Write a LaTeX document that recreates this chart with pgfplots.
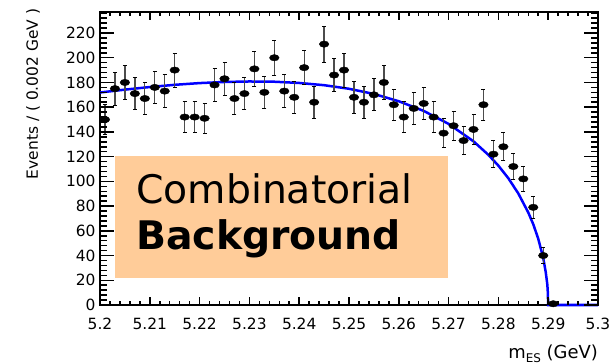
\documentclass[border=0pt]{standalone}
\usepackage{pgfplots}
\pgfplotsset{compat=1.18}
\usepackage{pgfplotstable}
\usepackage{fontspec}
\setmainfont{DejaVu Sans}
\definecolor{peach}{RGB}{255,204,153}

\pgfplotstableread{
x y ey
5.201 150 12.2
5.203 175 13.2
5.205 180 13.4
5.207 171 13.1
5.209 167 12.9
5.211 176 13.3
5.213 173 13.2
5.215 190 13.8
5.217 152 12.3
5.219 152 12.3
5.221 151 12.3
5.223 178 13.3
5.225 183 13.5
5.227 167 12.9
5.229 171 13.1
5.231 191 13.8
5.233 172 13.1
5.235 200 14.1
5.237 173 13.2
5.239 168 13.0
5.241 192 13.9
5.243 164 12.8
5.245 211 14.5
5.247 186 13.6
5.249 190 13.8
5.251 168 13.0
5.253 164 12.8
5.255 170 13.0
5.257 180 13.4
5.259 162 12.7
5.261 152 12.3
5.263 159 12.6
5.265 163 12.8
5.267 152 12.3
5.269 139 11.8
5.271 145 12.0
5.273 133 11.5
5.275 142 11.9
5.277 162 12.7
5.279 122 11.0
5.281 128 11.3
5.283 112 10.6
5.285 102 10.1
5.287 79 8.9
5.289 40 6.3
5.291 1 1.0
}\datatable

\pgfplotstableread{
x y
5.200 171.9
5.205 174.2
5.210 176.3
5.215 178.1
5.220 179.5
5.225 180.4
5.230 180.8
5.235 180.6
5.240 179.6
5.245 177.8
5.250 174.9
5.255 170.7
5.260 164.8
5.265 157.0
5.270 146.5
5.275 132.4
5.278 121.4
5.280 112.7
5.282 102.5
5.284 90.2
5.286 74.8
5.287 65.3
5.288 53.6
5.289 38.1
5.2895 26.7
5.2898 17.4
5.2899 12.3
5.2900 0
5.3000 0
}\fittable

\begin{document}
\begin{tikzpicture}
\begin{axis}[
  name=ax,
  scale only axis,
  width=498bp, height=293bp,
  xmin=5.2, xmax=5.3, ymin=0, ymax=237,
  xtick={5.2,5.21,5.22,5.23,5.24,5.25,5.26,5.27,5.28,5.29,5.3},
  xticklabels={5.2,5.21,5.22,5.23,5.24,5.25,5.26,5.27,5.28,5.29,5.3},
  ytick={0,20,40,60,80,100,120,140,160,180,200,220},
  yticklabels={0,20,40,60,80,100,120,140,160,180,200,220},
  axis line style={line width=1.5bp},
  major tick length=0pt, minor tick length=0pt,
  every tick/.style={draw=none},
  ticklabel style={font=\fontsize{15.5}{15.5}\selectfont},
  xticklabel style={yshift=-10bp},
  yticklabel style={xshift=-1bp},
  clip=false,
]
\fill[peach] (axis cs:5.2030,21.8) rectangle (axis cs:5.26988,120.5);
\node[anchor=base west, inner sep=0pt, font=\fontsize{39.5}{40}\selectfont] at (axis cs:5.20723,82.5) {Combinatorial};
\node[anchor=base west, inner sep=0pt, font=\fontsize{39.5}{40}\selectfont\bfseries] at (axis cs:5.20723,44.5) {Background};

\addplot[blue, line width=2.5bp, no marks] table[x=x,y=y] {\fittable};

\addplot[black, only marks, mark=*, mark size=3.2bp, mark options={xscale=1.5},
  error bars/.cd, y dir=both, y explicit,
  error bar style={line width=1.3bp, black!70},
  error mark options={rotate=90, mark size=2bp, line width=0.8bp, black}]
  table[x=x,y=y,y error=ey] {\datatable};
\end{axis}
% ROOT-style inside ticks on all four sides
\foreach \i in {0,...,50} {
  \pgfmathsetmacro\len{ifthenelse(mod(\i,5)==0,8,4)}
  \draw[black, line width=1.5bp] ([xshift=\i*9.96bp]ax.south west) -- ++(0,\len bp);
  \draw[black, line width=1.5bp] ([xshift=\i*9.96bp]ax.north west) -- ++(0,-\len bp);
}
\foreach \j in {0,...,59} {
  \pgfmathsetmacro\len{ifthenelse(mod(\j,5)==0,14,7)}
  \draw[black, line width=1.5bp] ([yshift=\j*4.94515bp]ax.south west) -- ++(\len bp,0);
  \draw[black, line width=1.5bp] ([yshift=\j*4.94515bp]ax.south east) -- ++(-\len bp,0);
}
\node[rotate=90, font=\fontsize{15.5}{15.5}\selectfont] at ([xshift=-67bp,yshift=211bp]ax.south west) {Events / ( 0.002 GeV )};
\node[anchor=base east, inner sep=0pt, font=\fontsize{18}{18}\selectfont] at ([yshift=-53bp]ax.south east) {m\raisebox{-0.45ex}{\fontsize{12}{12}\selectfont ES} (GeV)};
\pgfresetboundingbox
\path[use as bounding box] ([shift={(-100bp,-59bp)}]ax.south west) rectangle ([shift={(15bp,12bp)}]ax.north east);
\end{tikzpicture}
\end{document}
